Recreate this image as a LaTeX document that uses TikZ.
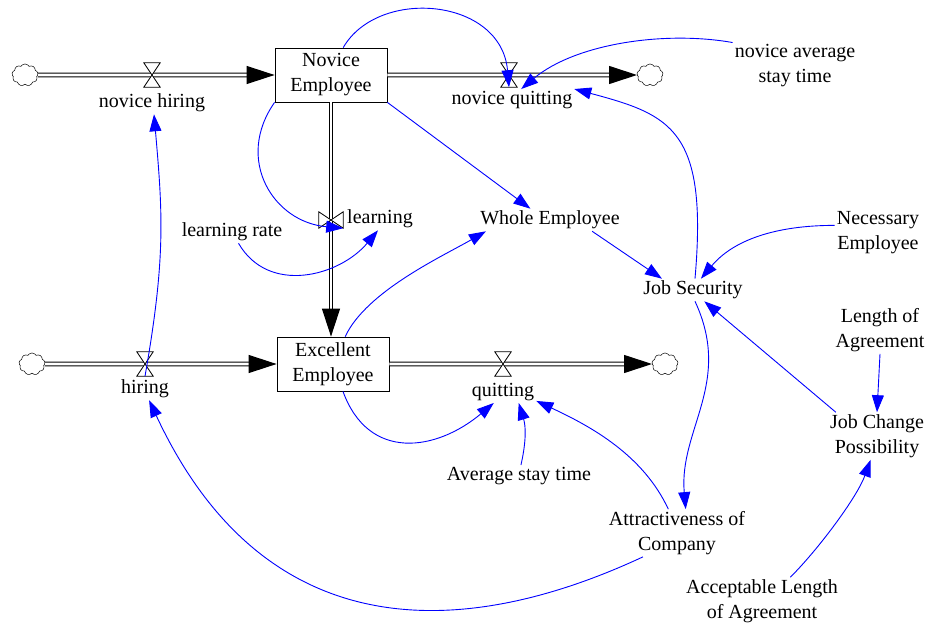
\documentclass[tikz,border=0pt]{standalone}
\usepackage{fontspec}
\setmainfont{Liberation Serif}
\usetikzlibrary{arrows.meta,shapes.symbols}

\newcommand{\hglass}[1]{\filldraw[fill=white,line width=0.8pt] (#1.north west) -- (#1.north east) -- (#1.south west) -- (#1.south east) -- cycle;}
\newcommand{\hglassturned}[1]{\filldraw[fill=white,line width=0.8pt] (#1.north west) -- (#1.south west) -- (#1.north east) -- (#1.south east) -- cycle;}

\tikzset{
  stock/.style={draw, line width=0.8pt, minimum width=112pt, minimum height=54pt, align=center, inner sep=0pt},
  varname/.style={align=center, inner sep=2pt},
  sink/.style={cloud, cloud puffs=9, cloud puff arc=120, draw, line width=0.5pt, minimum width=26pt, minimum height=22pt, inner sep=0pt},
  valve/.style={minimum width=16pt, minimum height=24pt, inner sep=0pt},
  valveturned/.style={minimum width=24pt, minimum height=16pt, inner sep=0pt},
  pipe/.style={draw, line width=1.1pt, double distance=2.6pt, -{Triangle[length=28pt,width=18pt]}},
  link/.style={blue, line width=0.9pt, -{Triangle[length=17pt,width=12pt]}},
}

\begin{document}
\begin{tikzpicture}[x=1pt,y=1pt,font=\fontsize{20}{25}\selectfont]
\useasboundingbox (0,0) rectangle (932,-629);
\def\ytop{-75}
\def\ybot{-364}

% stocks and clouds
\node[stock] (ne) at (331,\ytop) {Novice\\Employee};
\node[stock] (ee) at (333,\ybot) {Excellent\\Employee};
\node[sink] (s1) at (25,\ytop) {};
\node[sink] (s2) at (650,\ytop) {};
\node[sink] (s3) at (32,\ybot) {};
\node[sink] (s4) at (665,\ybot) {};

% valves
\node[valve] (vnh) at (152,\ytop) {};
\node[valve] (vnq) at (509,\ytop) {};
\node[valveturned] (vl) at (331,-220) {};
\node[valve] (vh) at (145,\ybot) {};
\node[valve] (vq) at (503,\ybot) {};

% flows
\draw[pipe] (s1) -- (ne);
\draw[pipe] (ne) -- (s2);
\draw[pipe] (ne.south) -- (ne.south |- ee.north);
\draw[pipe] (s3) -- (ee);
\draw[pipe] (ee) -- (s4);
\hglass{vnh}
\hglass{vnq}
\hglassturned{vl}
\hglass{vh}
\hglass{vq}

% flow names
\node[varname] (nh) at (152,-103) {novice hiring};
\node[varname] (nq) at (512,-100) {novice quitting};
\node[varname] (lrn) at (380,-219) {learning};
\node[varname] (hr) at (145,-389) {hiring};
\node[varname] (qt) at (503,-392) {quitting};

% auxiliaries
\node[varname] (nast) at (795,-66) {novice average\\stay time};
\node[varname] (lr) at (232,-232) {learning rate};
\node[varname] (we) at (550,-220) {Whole Employee};
\node[varname] (js) at (693,-290) {Job Security};
\node[varname] (nem) at (878,-233) {Necessary\\Employee};
\node[varname] (loa) at (880,-330) {Length of\\Agreement};
\node[varname] (jcp) at (877,-436) {Job Change\\Possibility};
\node[varname] (ast) at (519,-476) {Average stay time};
\node[varname] (ac) at (677,-533) {Attractiveness of\\Company};
\node[varname] (ala) at (762,-601) {Acceptable Length\\of Agreement};

% links
\draw[link] (ne.66) .. controls +(60:70) and +(95:90) .. (vnq.south);
\draw[link] (nast.north west) .. controls +(170:70) and +(40:70) .. (nq.50);
\draw[link] (js.80) .. controls +(85:150) and +(-15:100) .. (nq.10);
\draw[link] (ne.south west) .. controls +(235:70) and +(175:70) .. (vl.south east);
\draw[link] (lr.-60) .. controls +(-60:60) and +(-130:60) .. (lrn.-100);
\draw[link] (ne.south east) -- (we.150);
\draw[link] (ee.66) .. controls +(65:50) and +(210:50) .. (we.190);
\draw[link] (we.-15) -- (js.160);
\draw[link] (nem.170) .. controls +(180:60) and +(50:50) .. (js.55);
\draw[link] (jcp.150) -- (js.-45);
\draw[link] (loa.south) -- (jcp.north);
\draw[link] (ala.40) .. controls +(45:40) and +(-110:40) .. (jcp.-105);
\draw[link] (js.-80) .. controls +(-65:90) and +(95:80) .. (ac.70);
\draw[link] (ac.110) .. controls +(115:60) and +(-25:60) .. (qt.-15);
\draw[link] (ast.80) to[bend right=15] (qt.-35);
\draw[link] (ee.-70) .. controls +(-70:75) and +(-140:75) .. (qt.-130);
\draw[link] (ac.-145) .. controls +(-155:190) and +(-65:280) .. (hr.-70);
\draw[link] (vh.south) .. controls +(80:120) and +(-85:100) .. (nh.-80);
\end{tikzpicture}
\end{document}
